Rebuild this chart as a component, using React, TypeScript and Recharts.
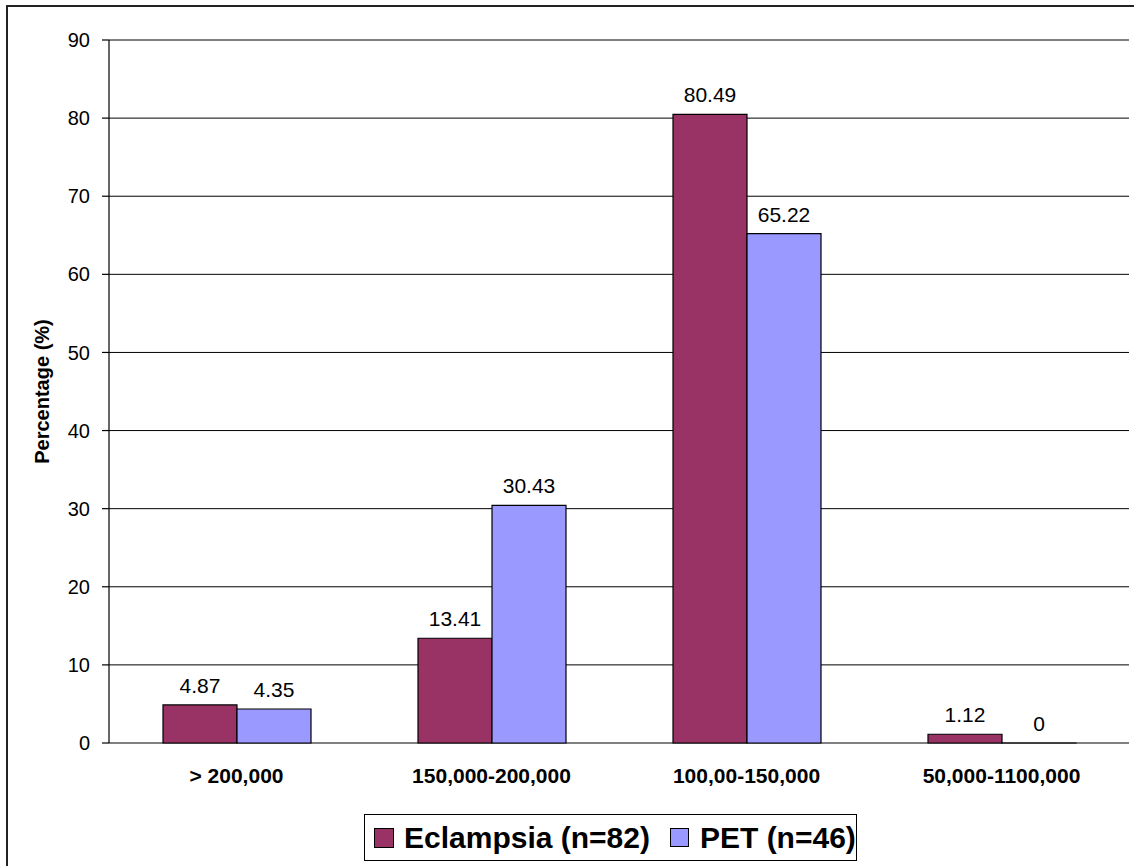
import { Bar, BarChart, CartesianGrid, LabelList, Legend, XAxis, YAxis } from "recharts";

const categories = ["> 200,000", "150,000-200,000", "100,00-150,000", "50,000-1100,000"];
const eclampsia = [4.87, 13.41, 80.49, 1.12];
const pet = [4.35, 30.43, 65.22, 0];
const yTicks = [0, 10, 20, 30, 40, 50, 60, 70, 80, 90];
const bounds = [0, 1, 2, 3, 4];

const SERIES = [
  { key: "eclampsia", name: "Eclampsia (n=82)", color: "#993366", box: 20 },
  { key: "pet", name: "PET (n=46)", color: "#9999FF", box: 19 },
];

const FONT = '"Liberation Sans", Arial, sans-serif';

const data = categories.map((c, i) => ({ category: c, eclampsia: eclampsia[i], pet: pet[i] }));

// value above each bar, drawn even when the bar has zero height
function ValueLabel(props: any) {
  const { x, y, width, value } = props;
  if (value == null) return null;
  return (
    <text x={x + width / 2} y={y - 12} textAnchor="middle" fill="#000" fontSize={21} fontFamily={FONT}>
      {value}
    </text>
  );
}

// a zero bar still needs an entry so its "0" label gets drawn
const keepZero = (v: any) => (Number(v) === 0 ? 0.01 : 0);

function LegendBox() {
  return (
    <div
      style={{
        display: "flex",
        alignItems: "center",
        boxSizing: "border-box",
        width: 493,
        height: 47,
        border: "1.5px solid #000",
        background: "#fff",
        paddingLeft: 9,
        fontFamily: FONT,
        fontWeight: "bold",
        fontSize: 30,
        color: "#000",
        whiteSpace: "nowrap",
      }}
    >
      {SERIES.map((s, i) => (
        <div key={s.key} style={{ display: "flex", alignItems: "center", marginLeft: i ? 20 : 0 }}>
          <span
            style={{
              display: "inline-block",
              boxSizing: "border-box",
              width: s.box,
              height: s.box,
              background: s.color,
              border: "1.5px solid #000",
              marginRight: i ? 11 : 10,
            }}
          />
          <span>{s.name}</span>
        </div>
      ))}
    </div>
  );
}

export default function App() {
  return (
    <div style={{ position: "fixed", left: 0, top: 0, width: 1134, height: 866, overflow: "hidden", background: "#fff" }}>
      <div
        style={{
          position: "absolute",
          left: 6,
          top: 5,
          width: 1160,
          height: 900,
          border: "2px solid #222",
        }}
      />
      <div style={{ position: "absolute", left: 0, top: 0 }}>
        <BarChart
          width={1134}
          height={866}
          data={data}
          margin={{ top: 40, right: 5, bottom: 0, left: 0 }}
          barCategoryGap={54}
          barGap={0}
          style={{ fontFamily: FONT }}
        >
          <CartesianGrid horizontal vertical={false} stroke="#000" strokeWidth={1} />
          <XAxis
            xAxisId={0}
            type="number"
            domain={[0, 4]}
            ticks={bounds}
            tick={false}
            tickSize={7}
            height={0}
            axisLine={{ stroke: "#000", strokeWidth: 1.2 }}
            tickLine={{ stroke: "#000", strokeWidth: 1.2 }}
          />
          <XAxis
            xAxisId="cat"
            dataKey="category"
            height={123}
            axisLine={false}
            tickLine={false}
            tickSize={7}
            tickMargin={18}
            interval={0}
            tick={{ fill: "#000", fontSize: 21, fontWeight: "bold", fontFamily: FONT }}
          />
          <YAxis
            domain={[0, 90]}
            ticks={yTicks}
            width={109}
            tickSize={7}
            tickMargin={12}
            axisLine={{ stroke: "#000", strokeWidth: 1.2 }}
            tickLine={{ stroke: "#000", strokeWidth: 1.2 }}
            tick={{ fill: "#000", fontSize: 20, fontFamily: FONT }}
            label={{
              content: (props: any) => {
                const vb = props.viewBox || {};
                const cy = (vb.y || 0) + (vb.height || 0) / 2;
                const cx = 42;
                return (
                  <text
                    x={cx}
                    y={cy}
                    transform={`rotate(-90 ${cx} ${cy})`}
                    textAnchor="middle"
                    dominantBaseline="central"
                    fontFamily={FONT}
                    fontWeight="bold"
                    fontSize={20}
                    fill="#000"
                  >
                    Percentage (%)
                  </text>
                );
              },
            }}
          />
          <Legend
            verticalAlign="middle"
            align="center"
            wrapperStyle={{ left: 364, top: 814, width: 493, height: 47 }}
            content={() => <LegendBox />}
          />
          {SERIES.map((s) => (
            <Bar
              key={s.key}
              xAxisId="cat"
              dataKey={s.key}
              name={s.name}
              fill={s.color}
              stroke="#000"
              strokeWidth={1.2}
              minPointSize={keepZero}
              isAnimationActive={false}
            >
              <LabelList dataKey={s.key} content={ValueLabel} />
            </Bar>
          ))}
        </BarChart>
      </div>
    </div>
  );
}
